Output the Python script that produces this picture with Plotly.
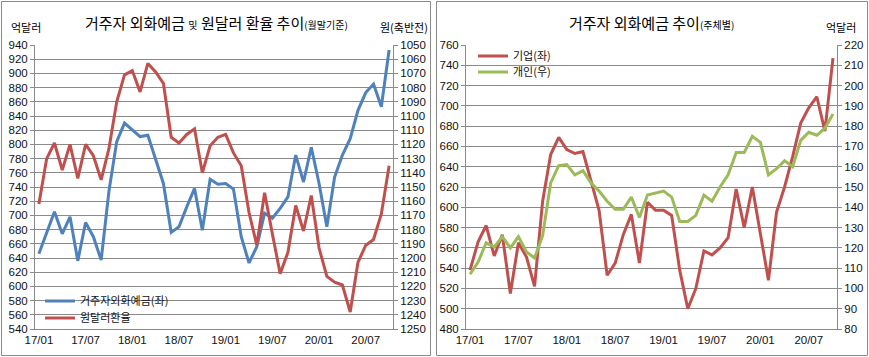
import plotly.graph_objects as go

# ---------------- data ----------------
months = ["17/01", "17/02", "17/03", "17/04", "17/05", "17/06", "17/07", "17/08", "17/09", "17/10", "17/11", "17/12",
          "18/01", "18/02", "18/03", "18/04", "18/05", "18/06", "18/07", "18/08", "18/09", "18/10", "18/11", "18/12",
          "19/01", "19/02", "19/03", "19/04", "19/05", "19/06", "19/07", "19/08", "19/09", "19/10", "19/11", "19/12",
          "20/01", "20/02", "20/03", "20/04", "20/05", "20/06", "20/07", "20/08", "20/09", "20/10"]

tick_labels = ["17/01", "17/07", "18/01", "18/07", "19/01", "19/07", "20/01", "20/07"]

# 거주자외화예금 (억달러, left axis)
deposit_total = [646, 677, 705, 674, 698, 636, 690, 670, 637, 734, 804, 830,
                 820, 811, 813, 778, 745, 676, 684, 712, 738, 679, 751, 744,
                 745, 737, 670, 633, 656, 703, 696, 710, 726, 785, 747, 796,
                 745, 684, 754, 785, 808, 848, 873, 885, 853, 933]

# 원달러환율 (원, reversed right axis)
krw_usd = [1162, 1130, 1119, 1138, 1120, 1144, 1120, 1128, 1145, 1123, 1090, 1071,
           1068, 1083, 1063, 1069, 1077, 1115, 1119, 1113, 1109, 1140, 1121, 1115,
           1113, 1126, 1135, 1168, 1191, 1154, 1183, 1211, 1196, 1163, 1181, 1156,
           1193, 1213, 1217, 1219, 1238, 1203, 1191, 1187, 1169, 1135]

# 기업 (억달러, left axis of right chart)
corporate = [538, 566, 582, 552, 573, 515, 565, 551, 522, 606, 652, 669,
             657, 653, 655, 627, 597, 533, 545, 573, 593, 545, 605, 597,
             597, 592, 538, 500, 520, 557, 553, 560, 570, 618, 580, 620,
             573, 528, 595, 620, 650, 683, 698, 709, 675, 747]

# 개인 (억달러, right axis of right chart)
individual = [107, 113, 122.5, 120.5, 125.5, 120, 125.5, 118, 115, 126, 152, 160.5,
              161, 156, 158, 152, 148, 143, 139, 139, 145, 135, 146, 147,
              148, 145, 133, 133, 136, 146, 143, 150, 156, 167, 167, 175,
              172, 156, 159, 163, 160, 173, 177, 175.5, 179, 186]

# ---------------- layout helpers ----------------
W, H = 869, 357
FONT = "Noto Sans CJK KR, Malgun Gothic, sans-serif"
NUMFONT = "Liberation Sans, Arial, sans-serif"
GRID = "#8a8a8a"
AXIS = "#8a8a8a"


def fx(p):
    return p / W


def fy(p):
    return 1 - p / H


n = len(months)
boundaries = [i - 0.5 for i in range(6, n, 6)]

fig = go.Figure()

fig.add_trace(go.Scatter(x=months, y=deposit_total, name="거주자외화예금(좌)", mode="lines",
                         line=dict(color="#4F81BD", width=3), xaxis="x", yaxis="y", legend="legend"))
fig.add_trace(go.Scatter(x=months, y=krw_usd, name="원달러환율", mode="lines",
                         line=dict(color="#C0504D", width=3), xaxis="x", yaxis="y2", legend="legend3"))
fig.add_trace(go.Scatter(x=months, y=corporate, name="기업(좌)", mode="lines",
                         line=dict(color="#C0504D", width=3), xaxis="x2", yaxis="y3", legend="legend2"))
fig.add_trace(go.Scatter(x=months, y=individual, name="개인(우)", mode="lines",
                         line=dict(color="#9BBB59", width=3), xaxis="x2", yaxis="y4", legend="legend4"))

tickfont = dict(family=NUMFONT, size=11.5, color="#111")

ydom = [fy(329), fy(45)]


def cat_axis(domain, anchor):
    return dict(domain=domain, anchor=anchor, type="category", range=[-0.5, n - 0.5],
                tickmode="array", tickvals=tick_labels, ticktext=tick_labels,
                ticks="", showline=True, linecolor=AXIS, linewidth=1, showgrid=False,
                tickfont=tickfont, zeroline=False)


def bound_axis(overlay, anchor):
    return dict(overlaying=overlay, anchor=anchor, type="linear", range=[-0.5, n - 0.5],
                tickmode="array", tickvals=boundaries, ticks="outside", ticklen=4,
                tickcolor=AXIS, showticklabels=False, showline=False, showgrid=False,
                zeroline=False)


def val_axis(domain, anchor, rng, dtick, side="left", overlay=None, grid=True):
    d = dict(domain=domain, anchor=anchor, range=rng, dtick=dtick, tick0=rng[0], side=side,
             ticks="outside", ticklen=4, tickcolor=AXIS, showline=True, linecolor=AXIS,
             linewidth=1, showgrid=grid, gridcolor=GRID, gridwidth=1, zeroline=False,
             tickfont=tickfont)
    if overlay:
        d["overlaying"] = overlay
        d.pop("domain")
    return d


left_x = [fx(35), fx(393)]
right_x = [fx(466), fx(837)]

fig.update_layout(
    template="none",
    width=W, height=H,
    margin=dict(l=0, r=0, t=0, b=0),
    paper_bgcolor="white", plot_bgcolor="white",
    font=dict(family=FONT, size=11, color="#111"),
    showlegend=True,
    xaxis=cat_axis(left_x, "y"),
    xaxis3=bound_axis("x", "y"),
    yaxis=val_axis(ydom, "x", [540, 940], 20),
    yaxis2=val_axis(ydom, "x", [1250, 1050], 10, side="right", overlay="y", grid=False),
    xaxis2=cat_axis(right_x, "y3"),
    xaxis4=bound_axis("x2", "y3"),
    yaxis3=val_axis(ydom, "x2", [480, 760], 20),
    yaxis4=val_axis(ydom, "x2", [80, 220], 10, side="right", overlay="y3", grid=False),
)

legend_common = dict(xanchor="left", yanchor="middle", bgcolor="rgba(0,0,0,0)",
                     font=dict(family=FONT, size=11, color="#111"), itemwidth=30,
                     borderwidth=0, itemclick=False)
fig.update_layout(
    legend=dict(x=fx(40), y=fy(301), **legend_common),
    legend3=dict(x=fx(40), y=fy(318), **legend_common),
    legend2=dict(x=fx(473), y=fy(56), **legend_common),
    legend4=dict(x=fx(473), y=fy(72), **legend_common),
)

ann = []
ann.append(dict(text="거주자 외화예금 <span style='font-size:10px'>및</span> 원달러 환율 추이"
                     "<span style='font-size:10px'>(월말기준)</span>",
                x=fx(216), y=fy(23), font=dict(family=FONT, size=15, color="#000")))
ann.append(dict(text="억달러", x=fx(26), y=fy(27), font=dict(family=FONT, size=11, color="#000")))
ann.append(dict(text="원(축반전)", x=fx(404), y=fy(27), font=dict(family=FONT, size=11, color="#000")))
ann.append(dict(text="거주자 외화예금 추이<span style='font-size:10px'>(주체별)</span>",
                x=fx(651), y=fy(23), font=dict(family=FONT, size=15, color="#000")))
ann.append(dict(text="억달러", x=fx(841), y=fy(27), font=dict(family=FONT, size=11, color="#000")))
for a in ann:
    a.update(xref="paper", yref="paper", xanchor="center", yanchor="middle", showarrow=False)
fig.update_layout(annotations=ann)

fig.update_layout(shapes=[
    dict(type="rect", xref="paper", yref="paper", x0=fx(1.5), x1=fx(430.5), y0=fy(355.5), y1=fy(1.5),
         line=dict(color="#8a8a8a", width=1)),
    dict(type="rect", xref="paper", yref="paper", x0=fx(436.5), x1=fx(867.5), y0=fy(355.5), y1=fy(1.5),
         line=dict(color="#8a8a8a", width=1)),
])

fig.write_html("out.html", config={"displayModeBar": False},
               post_script="document.body.style.margin='0px';document.body.style.overflow='hidden';")
